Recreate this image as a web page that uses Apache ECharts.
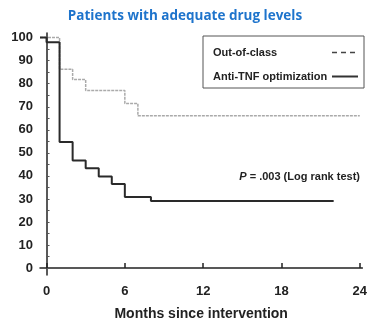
<!DOCTYPE html>
<html><head><meta charset="utf-8">
<script src="https://cdn.jsdelivr.net/npm/echarts@6/dist/echarts.min.js"></script>
<style>html,body{margin:0;padding:0;background:#fff}#c{width:370px;height:326px}</style>
</head><body><div id="c"></div>
<script>
const title = 'Patients with adequate drug levels';
const xTicks = [0, 6, 12, 18, 24];
const yTicks = [0, 10, 20, 30, 40, 50, 60, 70, 80, 90, 100];
const yMinorTicks = [0,5,10,15,20,25,30,35,40,45,50,55,60,65,70,75,80,85,90,95,100];
const seriesNames = ['Out-of-class', 'Anti-TNF optimization'];
const outOfClassTimes = [-0.5, 1, 2, 3, 6, 7, 24];
const outOfClassValues = [100, 86.3, 81.8, 77.1, 71.4, 66.1, 66.1];
const antiTnfTimes = [-0.5, 0, 1, 2, 3, 4, 5, 6, 8, 22];
const antiTnfValues = [100, 98, 54.7, 46.7, 43.3, 39.7, 36.5, 30.8, 29.1, 29.1];
const pText = '= .003 (Log rank test)';

const zip = (a, b) => a.map((v, i) => [v, b[i]]);
const chart = echarts.init(document.getElementById('c'), null, {renderer: 'canvas'});
const axisFont = {fontFamily: 'Liberation Sans', fontWeight: 'bold', fontSize: 13, color: '#222'};
const legFont = {fontFamily: 'Liberation Sans', fontWeight: 'bold', fontSize: 11, color: '#222'};
chart.setOption({
  animation: false,
  title: {text: title, left: 'center', top: 4,
    textStyle: {fontFamily: 'Open Sans', fontWeight: 'bold', fontSize: 13.5, color: '#1e74cc'}},
  grid: {left: 40, right: 6, top: 33, bottom: 48},
  legend: {
    orient: 'vertical', right: 6, top: 36, align: 'right',
    padding: [11, 5, 6, 10], itemGap: 13, itemWidth: 26, itemHeight: 8,
    borderColor: '#555', borderWidth: 1,
    formatter: '{a|{name}}',
    textStyle: {...legFont, rich: {a: {...legFont, width: 114, align: 'left'}}},
    data: [
      {name: seriesNames[0], itemStyle: {opacity: 0}, lineStyle: {color: '#444', type: [5, 4], width: 1.5}},
      {name: seriesNames[1], itemStyle: {opacity: 0}, lineStyle: {color: '#333', width: 2}}
    ]
  },
  xAxis: {
    type: 'value', min: -0.5, max: 24.2,
    name: 'Months since intervention', nameLocation: 'middle', nameGap: 32,
    nameTextStyle: {fontFamily: 'Liberation Sans', fontWeight: 'bold', fontSize: 14, color: '#222'},
    axisLine: {lineStyle: {color: '#222', width: 1.5}},
    axisTick: {customValues: xTicks, length: 5, inside: true, lineStyle: {color: '#222', width: 1.5}},
    axisLabel: {customValues: xTicks, ...axisFont, margin: 10},
    splitLine: {show: false}
  },
  yAxis: {
    type: 'value', min: -3, max: 102,
    axisLine: {show: true, lineStyle: {color: '#222', width: 1.5}},
    axisTick: {show: true, customValues: yMinorTicks, length: 3, inside: true, lineStyle: {color: '#555', width: 1}},
    axisLabel: {customValues: yTicks, ...axisFont, margin: 7},
    splitLine: {show: false}
  },
  graphic: [{
    type: 'text', right: 10, top: 171,
    style: {
      text: '{i|P} ' + pText,
      rich: {i: {fontStyle: 'italic', fontFamily: 'Liberation Sans', fontWeight: 'bold', fontSize: 11, fill: '#222'}},
      fontFamily: 'Liberation Sans', fontWeight: 'bold', fontSize: 11, fill: '#222'
    }
  }],
  series: [
    {name: seriesNames[0], type: 'line', step: 'end', symbol: 'none',
      data: zip(outOfClassTimes, outOfClassValues),
      lineStyle: {color: '#aaa', width: 1.5, type: [3, 1]}, itemStyle: {color: '#444'}},
    {name: seriesNames[1], type: 'line', step: 'end', symbol: 'none',
      data: zip(antiTnfTimes, antiTnfValues),
      lineStyle: {color: '#2a2a2a', width: 2}, itemStyle: {color: '#333'}}
  ]
});
</script></body></html>
